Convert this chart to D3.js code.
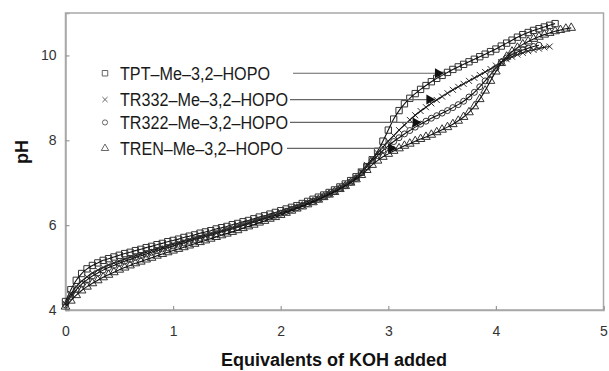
<!DOCTYPE html>
<html><head><meta charset="utf-8">
<script src="https://cdn.jsdelivr.net/npm/d3@7"></script>
<style>body{margin:0;background:#fff;}svg{display:block;font-family:Arial,"Liberation Sans",sans-serif;}</style>
</head><body><svg id="c" width="609" height="371"></svg>
<script>
// Equivalents of KOH added (x), step 0.05
const xTPT = d3.range(0, 92).map(i => +(i * 0.05).toFixed(2));   // 0 .. 4.55
const xTR332 = d3.range(0, 91).map(i => +(i * 0.05).toFixed(2)); // 0 .. 4.50
const xTR322 = d3.range(0, 89).map(i => +(i * 0.05).toFixed(2)); // 0 .. 4.40
const xTREN = d3.range(0, 95).map(i => +(i * 0.05).toFixed(2));  // 0 .. 4.70

const pHTPT = [4.20,4.48,4.70,4.86,4.97,5.05,5.11,5.17,5.21,5.25,5.29,5.33,5.36,5.40,5.43,5.47,5.50,5.54,5.57,5.61,
5.64,5.67,5.71,5.74,5.77,5.81,5.84,5.87,5.91,5.94,5.97,6.01,6.04,6.08,6.11,6.15,6.19,6.22,6.26,6.30,
6.34,6.38,6.42,6.46,6.51,6.56,6.61,6.66,6.71,6.77,6.83,6.90,6.97,7.05,7.14,7.25,7.38,7.54,7.74,7.98,
8.24,8.50,8.70,8.86,8.99,9.10,9.20,9.29,9.38,9.46,9.53,9.60,9.67,9.73,9.79,9.85,9.91,9.97,10.03,10.09,
10.15,10.22,10.29,10.36,10.43,10.49,10.54,10.59,10.63,10.67,10.71,10.75];

const pHTR332 = [4.15,4.38,4.55,4.68,4.78,4.87,4.94,5.00,5.06,5.11,5.15,5.20,5.24,5.28,5.32,5.36,5.40,5.44,5.47,5.51,
5.55,5.58,5.62,5.65,5.69,5.72,5.76,5.79,5.83,5.86,5.90,5.94,5.97,6.01,6.05,6.09,6.13,6.17,6.21,6.25,
6.29,6.33,6.38,6.42,6.47,6.52,6.57,6.62,6.68,6.74,6.80,6.87,6.94,7.02,7.12,7.26,7.42,7.56,7.70,7.84,
7.98,8.11,8.24,8.36,8.48,8.59,8.69,8.78,8.87,8.95,9.03,9.11,9.19,9.26,9.33,9.40,9.47,9.54,9.61,9.68,
9.76,9.84,9.91,9.97,10.02,10.06,10.10,10.13,10.16,10.19,10.21];

const pHTR322 = [4.12,4.32,4.48,4.61,4.71,4.80,4.87,4.94,5.00,5.05,5.10,5.15,5.19,5.24,5.28,5.32,5.36,5.40,5.44,5.47,
5.51,5.55,5.58,5.62,5.66,5.69,5.73,5.76,5.80,5.84,5.87,5.91,5.95,5.99,6.03,6.07,6.11,6.15,6.19,6.23,
6.28,6.32,6.37,6.41,6.46,6.51,6.56,6.61,6.67,6.73,6.79,6.86,6.93,7.01,7.10,7.23,7.38,7.52,7.64,7.76,
7.87,7.97,8.06,8.15,8.23,8.31,8.38,8.45,8.52,8.58,8.64,8.70,8.77,8.84,8.92,9.02,9.13,9.26,9.40,9.55,
9.70,9.84,9.94,10.02,10.08,10.13,10.17,10.21,10.24];

const pHTREN = [4.08,4.22,4.35,4.46,4.55,4.63,4.70,4.77,4.83,4.89,4.95,5.00,5.05,5.10,5.14,5.19,5.23,5.28,5.32,5.36,
5.40,5.44,5.48,5.52,5.56,5.60,5.64,5.68,5.72,5.76,5.80,5.84,5.88,5.93,5.97,6.01,6.06,6.10,6.15,6.19,
6.24,6.29,6.34,6.39,6.44,6.49,6.54,6.60,6.66,6.72,6.78,6.85,6.92,7.00,7.08,7.18,7.30,7.42,7.52,7.61,
7.68,7.75,7.81,7.87,7.92,7.98,8.03,8.08,8.13,8.19,8.25,8.31,8.38,8.46,8.55,8.66,8.80,8.97,9.17,9.40,
9.62,9.82,9.97,10.09,10.18,10.26,10.33,10.39,10.44,10.49,10.53,10.57,10.60,10.63,10.65];

const seriesNames = ["TPT–Me–3,2–HOPO","TR332–Me–3,2–HOPO","TR322–Me–3,2–HOPO","TREN–Me–3,2–HOPO"];
const seriesX = [xTPT, xTR332, xTR322, xTREN];
const seriesY = [pHTPT, pHTR332, pHTR322, pHTREN];
const markerKinds = ["square","cross","circle","triangle"];
const xTicks = [0,1,2,3,4,5];
const yTicks = [4,6,8,10];
// pH level at which each legend leader line meets its curve
const legendPH = [9.58, 8.96, 8.42, 7.81];

const svg = d3.select("#c");
const L = 65.5, R = 603.5, T = 13, B = 310;
const x = d3.scaleLinear().domain([0,5]).range([L,R]);
const y = d3.scaleLinear().domain([4,11]).range([B,T]);

// frame
svg.append("rect").attr("x",L).attr("y",T).attr("width",R-L).attr("height",B-T)
  .attr("fill","none").attr("stroke","#a8a8a8").attr("stroke-width",1.5);

// axes
const xAxis = svg.append("g").attr("transform",`translate(0,${B})`)
  .call(d3.axisBottom(x).tickValues(xTicks).tickSize(-4).tickPadding(16).tickFormat(d3.format("d")));
const yAxis = svg.append("g").attr("transform",`translate(${L},0)`)
  .call(d3.axisLeft(y).tickValues(yTicks).tickSize(-4).tickPadding(9).tickFormat(d3.format("d")));
[xAxis,yAxis].forEach(g=>{
  g.select(".domain").attr("stroke","#a8a8a8").attr("stroke-width",1.5);
  g.selectAll(".tick line").attr("stroke","#999").attr("stroke-width",1.2);
  g.selectAll(".tick text").attr("fill","#333").style("font-size","14px").style("font-family","Arial,'Liberation Sans',sans-serif");
});

// marker paths
function markerPath(kind, big){
  const k = big ? 1 : 0.75;
  if(kind==="square") return d3.symbol().type(d3.symbolSquare).size(40*k)();
  if(kind==="circle") return d3.symbol().type(d3.symbolCircle).size(28*k)();
  if(kind==="triangle") return d3.symbol().type(d3.symbolTriangle).size(32*k)();
  const s=3*Math.sqrt(k); return `M${-s},${-s}L${s},${s}M${-s},${s}L${s},${-s}`;
}

const line = d3.line().x(d=>x(d[0])).y(d=>y(d[1])).curve(d3.curveMonotoneX);

seriesY.forEach((vals,si)=>{
  const pts = vals.map((v,i)=>[seriesX[si][i], v]);
  const g = svg.append("g");
  g.selectAll("path.m").data(pts).join("path").attr("class","m")
    .attr("d", markerPath(markerKinds[si], true))
    .attr("transform", d=>`translate(${x(d[0])},${y(d[1])})`)
    .attr("fill","none").attr("stroke","#333").attr("stroke-width",1);
  g.append("path").datum(pts).attr("d",line).attr("fill","none").attr("stroke","#111").attr("stroke-width",1.1);
});

// legend
const legX = 105, legTextX = 120;
const legLineStart = [293, 290, 290, 287];
const legTextLen = [150, 168, 168, 163];
legendPH.forEach((ph,si)=>{
  const rowY = y(ph);
  const g = svg.append("g");
  g.append("path").attr("d", markerPath(markerKinds[si], false))
    .attr("transform",`translate(${legX},${rowY})`)
    .attr("fill","none").attr("stroke","#555").attr("stroke-width",0.9);
  g.append("text").attr("x",legTextX).attr("y",rowY+6.5)
    .attr("textLength",legTextLen[si]).attr("lengthAdjust","spacingAndGlyphs")
    .style("font-size","18px").attr("fill","#1a1a1a").text(seriesNames[si]);
  // find intersection of curve with row pH
  const xs = seriesX[si], ys = seriesY[si];
  let xi = xs[xs.length-1];
  for(let i=1;i<ys.length;i++){
    if(ys[i-1] <= ph && ys[i] >= ph){ xi = xs[i-1] + (ph-ys[i-1])/(ys[i]-ys[i-1])*(xs[i]-xs[i-1]); break; }
  }
  const tip = x(xi) - 2;
  g.append("line").attr("x1",legLineStart[si]).attr("x2",tip-6).attr("y1",rowY).attr("y2",rowY)
    .attr("stroke","#666").attr("stroke-width",1.2);
  g.append("path").attr("d",`M${tip},${rowY}L${tip-9},${rowY-5}L${tip-9},${rowY+5}Z`).attr("fill","#111");
});

// axis titles
svg.append("text").attr("x",(L+R)/2 - 0.5).attr("y",366).attr("text-anchor","middle")
  .style("font-size","18px").style("font-weight","bold").attr("fill","#111").text("Equivalents of KOH added");
svg.append("text").attr("transform","translate(28,152) rotate(-90)").attr("text-anchor","middle")
  .style("font-size","18px").style("font-weight","bold").attr("fill","#111").text("pH");
</script></body></html>
